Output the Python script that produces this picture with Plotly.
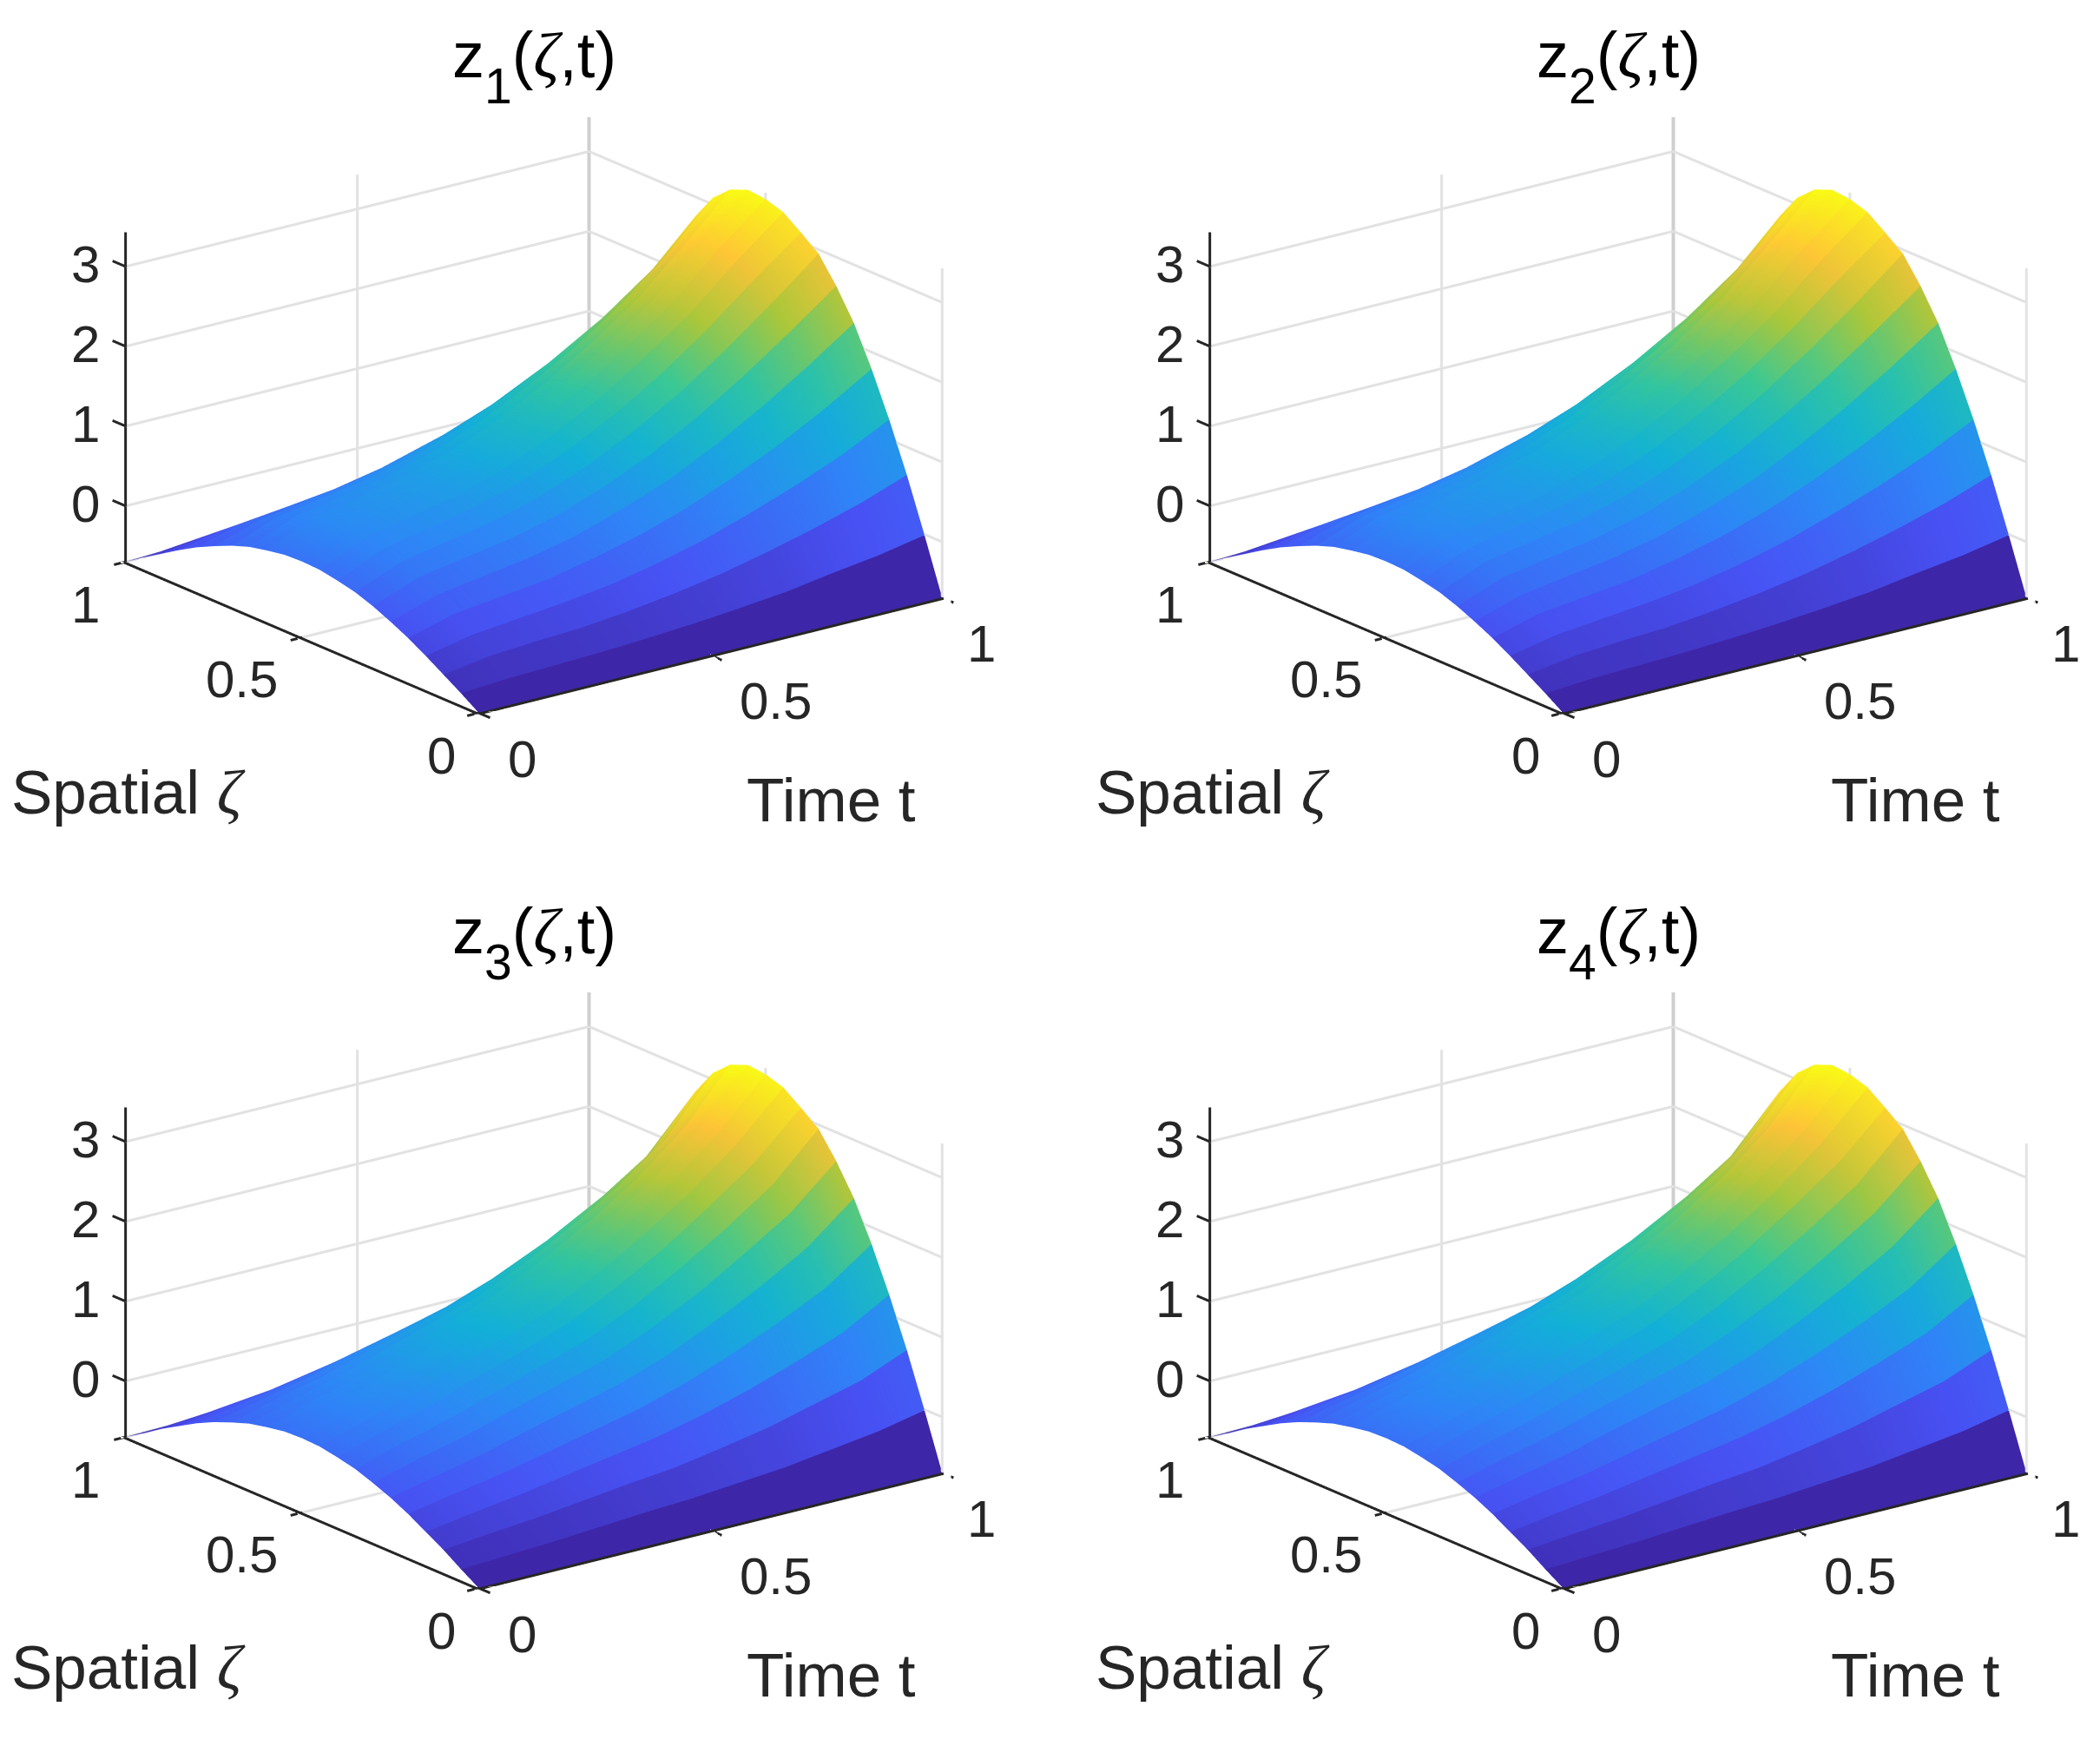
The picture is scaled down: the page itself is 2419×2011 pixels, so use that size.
import plotly.graph_objects as go

# Values
time_t = [0.0, 0.1, 0.2, 0.3, 0.4, 0.5, 0.6, 0.7, 0.8, 0.9, 1.0]
spatial = [0.0, 0.05, 0.1, 0.15, 0.2, 0.25, 0.3, 0.35, 0.4, 0.45, 0.5,
           0.55, 0.6, 0.65, 0.7, 0.75, 0.8, 0.85, 0.9, 0.95, 1.0]

# rows: time_t, columns: spatial
z_a = [
 [-.70,-.55,-.41,-.27,-.14,-.03,.07,.15,.20,.24,.25,.24,.20,.15,.07,-.03,-.14,-.27,-.41,-.55,-.70],
 [-.70,-.51,-.32,-.15,.02,.16,.29,.39,.46,.51,.52,.51,.46,.39,.29,.16,.02,-.15,-.32,-.51,-.70],
 [-.70,-.49,-.28,-.09,.09,.25,.39,.50,.58,.63,.65,.63,.58,.50,.39,.25,.09,-.09,-.28,-.49,-.70],
 [-.70,-.47,-.25,-.03,.16,.34,.49,.61,.70,.75,.77,.75,.70,.61,.49,.34,.16,-.03,-.25,-.47,-.70],
 [-.70,-.44,-.19,.05,.28,.47,.64,.78,.88,.94,.96,.94,.88,.78,.64,.47,.28,.05,-.19,-.44,-.70],
 [-.70,-.40,-.11,.17,.43,.66,.85,1.01,1.13,1.20,1.22,1.20,1.13,1.01,.85,.66,.43,.17,-.11,-.40,-.70],
 [-.70,-.35,-.01,.32,.62,.88,1.11,1.30,1.43,1.51,1.54,1.51,1.43,1.30,1.11,.88,.62,.32,-.01,-.35,-.70],
 [-.70,-.29,.12,.51,.86,1.17,1.43,1.64,1.79,1.89,1.92,1.89,1.79,1.63,1.42,1.15,.84,.49,.11,-.29,-.70],
 [-.70,-.20,.27,.72,1.13,1.50,1.80,2.04,2.21,2.31,2.35,2.31,2.20,2.02,1.77,1.46,1.09,.68,.24,-.22,-.70],
 [-.70,-.12,.44,.96,1.44,1.87,2.21,2.48,2.68,2.82,2.88,2.86,2.73,2.50,2.17,1.81,1.39,.91,.40,-.15,-.70],
 [-.70,-.01,.65,1.25,1.79,2.27,2.64,2.95,3.12,3.28,3.35,3.37,3.28,3.08,2.75,2.30,1.78,1.20,.60,-.05,-.70],
]
z_b = [
 [-.70,-.56,-.41,-.28,-.15,-.04,.05,.13,.18,.22,.23,.22,.18,.13,.05,-.04,-.15,-.28,-.41,-.56,-.70],
 [-.70,-.53,-.35,-.19,-.04,.09,.21,.30,.37,.41,.42,.41,.37,.30,.21,.09,-.04,-.19,-.35,-.53,-.70],
 [-.70,-.50,-.30,-.11,.06,.22,.35,.46,.54,.58,.60,.58,.54,.46,.35,.22,.06,-.11,-.30,-.50,-.70],
 [-.70,-.46,-.23,-.01,.19,.38,.53,.65,.75,.80,.82,.80,.75,.65,.53,.38,.19,-.01,-.23,-.46,-.70],
 [-.70,-.42,-.16,.09,.32,.53,.70,.84,.94,1.01,1.03,1.01,.94,.84,.70,.53,.32,.09,-.16,-.42,-.70],
 [-.70,-.39,-.10,.19,.45,.68,.87,1.03,1.15,1.22,1.25,1.22,1.15,1.03,.87,.68,.45,.19,-.10,-.39,-.70],
 [-.70,-.34,.00,.33,.63,.89,1.12,1.30,1.44,1.53,1.56,1.53,1.44,1.30,1.12,.89,.63,.33,.00,-.34,-.70],
 [-.70,-.29,.11,.50,.85,1.16,1.41,1.63,1.77,1.87,1.90,1.87,1.77,1.62,1.40,1.14,.83,.48,.10,-.29,-.70],
 [-.70,-.21,.26,.70,1.10,1.46,1.76,1.99,2.16,2.26,2.30,2.26,2.15,1.97,1.73,1.42,1.06,.66,.23,-.23,-.70],
 [-.70,-.13,.41,.92,1.38,1.80,2.13,2.39,2.58,2.72,2.78,2.76,2.63,2.41,2.09,1.74,1.33,.87,.37,-.16,-.70],
 [-.70,-.01,.65,1.25,1.79,2.27,2.64,2.95,3.12,3.28,3.35,3.37,3.28,3.08,2.75,2.30,1.78,1.20,.60,-.05,-.70],
]
panels = [("1", z_a), ("2", z_a), ("3", z_b), ("4", z_b)]

t_ticks = [0, 0.5, 1]
s_ticks = [0, 0.5, 1]
z_ticks = [0, 1, 2, 3]
z_floor, z_top = -0.7, 3.43
c_range = [-0.7, 3.37]

parula = [(0.2422, 0.1504, 0.6603), (0.2810, 0.3228, 0.9579), (0.1786, 0.5289, 0.9682),
          (0.0689, 0.6948, 0.8394), (0.2161, 0.7843, 0.5923), (0.6720, 0.7793, 0.2227),
          (0.9970, 0.7659, 0.2199), (0.9769, 0.9839, 0.0805)]

TICK = "#262626"
GRID = "#e2e2e2"
CORNER = "#cfcfcf"
FONT = "Liberation Sans"
ZETA = "<span style=\"font-family:'Liberation Serif';font-style:italic\">ζ</span>"
PAD_T, PAD_S = 0.03, 0.04
TL_Z, TL_S, TL_T = 0.037, 0.025, 0.032
AXIS_OFFSET = -0.004
SCALE = 1.428


def colour(v):
    f = min(max((v - c_range[0]) / (c_range[1] - c_range[0]), 0), 1) * (len(parula) - 1)
    i = min(int(f), len(parula) - 2)
    w = f - i
    r, g, b = [parula[i][k] * (1 - w) + parula[i + 1][k] * w for k in range(3)]
    return f"rgb({r*255:.0f},{g*255:.0f},{b*255:.0f})"


def strips(table):
    xs, ys, zs, cols, ii, jj, kk = [], [], [], [], [], [], []
    for j in range(len(spatial) - 1):
        base = len(xs)
        for n, t in enumerate(time_t):
            c = colour(table[n][j])
            xs += [t, t]
            ys += [spatial[j], spatial[j + 1]]
            zs += [table[n][j], table[n][j + 1]]
            cols += [c, c]
        for n in range(len(time_t) - 1):
            a = base + 2 * n
            ii += [a, a + 1]
            jj += [a + 1, a + 3]
            kk += [a + 2, a + 2]
    return xs, ys, zs, cols, ii, jj, kk


def lines(segs, color, width, scene):
    xs, ys, zs = [], [], []
    for p, q in segs:
        xs += [p[0], q[0], None]
        ys += [p[1], q[1], None]
        zs += [p[2], q[2], None]
    return go.Scatter3d(x=xs, y=ys, z=zs, mode="lines", line=dict(color=color, width=width),
                        scene=scene, hoverinfo="skip", showlegend=False)


def bare_axis(lo, hi):
    return dict(range=[lo, hi], showticklabels=False, title=dict(text=""), showgrid=False, zeroline=False,
                showline=False, ticks="", showbackground=False, showspikes=False, autorange=False)


def ann(x, y, z, text, dx, dy, size, color=TICK):
    return dict(x=x, y=y, z=z, text=text, showarrow=False, xshift=dx, yshift=dy,
                xanchor="center", yanchor="middle", font=dict(family=FONT, size=size, color=color))


W, H = 2419, 2011
centres = [(607, 470), (1856, 470), (607, 1478), (1856, 1478)]
SW, SH = 1100, 940
EYE = 30
fig = go.Figure()
layout = {}
titles = []
title_pos = [(607, 69), (1856, 69), (607, 1077), (1856, 1077)]
for n, (label, table) in enumerate(panels):
    name = "scene" if n == 0 else f"scene{n+1}"
    xs, ys, zs, cols, ii, jj, kk = strips(table)
    fig.add_trace(go.Mesh3d(x=xs, y=ys, z=zs, i=ii, j=jj, k=kk, vertexcolor=cols, scene=name,
                            flatshading=True, hoverinfo="skip",
                            lighting=dict(ambient=1, diffuse=0, specular=0, roughness=1, fresnel=0)))
    grid = []
    for v in z_ticks:
        grid.append(((0, 1, v), (1, 1, v)))
        grid.append(((1, 1, v), (1, 0, v)))
    for t in t_ticks[1:-1]:
        grid.append(((t, 1, z_floor), (t, 1, z_top)))
        grid.append(((t, 0, z_floor), (t, 1, z_floor)))
    for s in s_ticks[1:-1]:
        grid.append(((1, s, z_floor), (1, s, z_top)))
        grid.append(((0, s, z_floor), (1, s, z_floor)))
    grid.append(((1, 0, z_floor), (1, 0, z_top)))
    grid.append(((1, 1, z_floor), (1, 0, z_floor)))
    grid.append(((0, 1, z_floor), (1, 1, z_floor)))
    fig.add_trace(lines(grid, GRID, 6, name))
    fig.add_trace(lines([((1, 1, z_floor), (1, 1, z_top))], CORNER, 8, name))
    # each axis gets its own trace, set just in front of the surface edge
    fig.add_trace(lines([((0, 1, z_floor), (0, 1, z_top))], TICK, 6, name))
    fig.add_trace(lines([((AXIS_OFFSET, 1, z_floor), (AXIS_OFFSET, 0, z_floor))], TICK, 6, name))
    fig.add_trace(lines([((0, AXIS_OFFSET, z_floor), (1, AXIS_OFFSET, z_floor))], TICK, 6, name))
    ticks = [((0, 1, v), (0, 1 + TL_Z, v)) for v in z_ticks]
    ticks += [((0, s, z_floor), (-TL_S, s, z_floor)) for s in s_ticks]
    ticks += [((t, 0, z_floor), (t, -TL_T, z_floor)) for t in t_ticks]
    fig.add_trace(lines(ticks, TICK, 6, name))
    anns = []
    for v in z_ticks:
        anns.append(ann(0, 1, v, str(v), -46, 2, 60))
    anns += [ann(0, 1, z_floor, "1", -46, -49, 60), ann(0, 0.5, z_floor, "0.5", -70, -48, 60),
             ann(0, 0, z_floor, "0", -43, -49, 60),
             ann(0, 0, z_floor, "0", 50, -53, 60), ann(0.5, 0, z_floor, "0.5", 75, -53, 60),
             ann(1, 0, z_floor, "1", 45, -53, 60),
             ann(0, 0.5, z_floor, "Spatial " + ZETA, -200, -178, 71),
             ann(0.5, 0, z_floor, "Time t", 139, -167, 71)]
    cx, cy = centres[n]
    layout[name] = dict(
        domain=dict(x=[(cx - SW / 2) / W, (cx + SW / 2) / W], y=[1 - (cy + SH / 2) / H, 1 - (cy - SH / 2) / H]),
        aspectmode="manual",
        aspectratio=dict(x=SCALE * (1 + 2 * PAD_T), y=SCALE * 1.0 * (1 + 2 * PAD_S),
                         z=SCALE * 0.594 * (z_top - z_floor) / 4.1),
        camera=dict(projection=dict(type="orthographic"), center=dict(x=0, y=0, z=0),
                    up=dict(x=0, y=0, z=1), eye=dict(x=-0.573 * EYE, y=-0.752 * EYE, z=0.326 * EYE)),
        xaxis=bare_axis(-PAD_T, 1 + PAD_T), yaxis=bare_axis(-PAD_S, 1 + PAD_S), zaxis=bare_axis(z_floor, z_top),
        annotations=anns, bgcolor="white")
    tx, ty = title_pos[n]
    titles.append(dict(x=tx / W, y=1 - ty / H, xref="paper", yref="paper", showarrow=False,
                       xanchor="center", yanchor="middle",
                       text=f"z<sub><span style=\"font-size:110%;baseline-shift:-14px\">{label}</span></sub>({ZETA},t)",
                       font=dict(family=FONT, size=74, color="black")))

fig.update_layout(width=W, height=H, margin=dict(l=0, r=0, t=0, b=0), paper_bgcolor="white",
                  showlegend=False, annotations=titles, **layout)
fig.write_html("out.html")
